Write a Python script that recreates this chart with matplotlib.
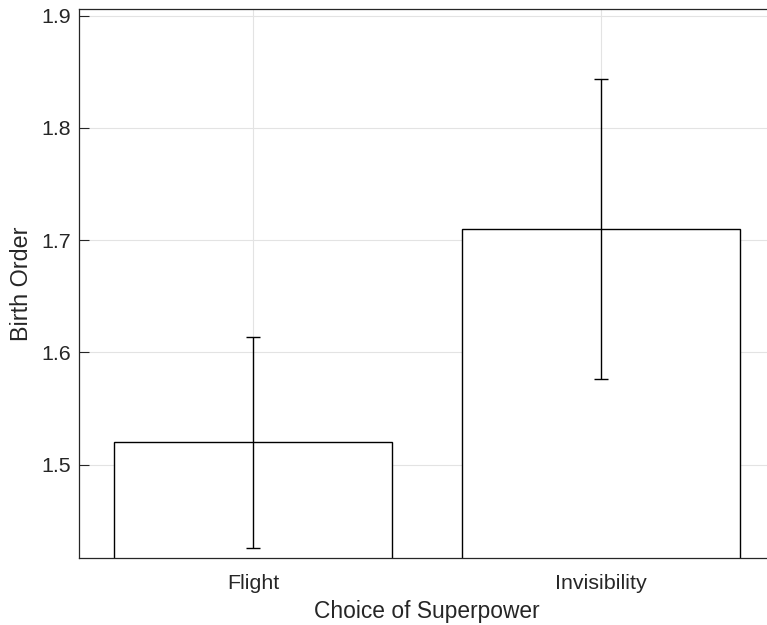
import matplotlib
matplotlib.use('Agg')
import matplotlib.pyplot as plt
import numpy as np

# Datos
categories = ['Flight', 'Invisibility']
means = [1.52, 1.71]
errors = [0.094, 0.1335]
yticks = [1.5, 1.6, 1.7, 1.8, 1.9]

plt.rcParams['font.family'] = ['Liberation Sans', 'DejaVu Sans']

fig = plt.figure(figsize=(7.67, 6.25), dpi=100)
ax = fig.add_axes([0.103, 0.1067, 0.907, 0.879])

x = np.arange(1, len(categories) + 1)
ax.bar(x, means, width=0.8, color='white', edgecolor='black', linewidth=1.0, zorder=2)
ax.errorbar(x, means, yerr=errors, fmt='none', ecolor='black', elinewidth=1.0,
            capsize=5, capthick=1.0, zorder=3)

ax.set_xlim(0.5, 2.5)
ax.set_ylim(1.4166, 1.906)
ax.set_xticks(x)
ax.set_xticklabels(categories)
ax.set_yticks(yticks)
ax.set_yticklabels([f'{v:.1f}' for v in yticks])

ax.grid(True, color='#e3e3e3', linewidth=0.8, zorder=0)
ax.set_axisbelow(True)
ax.tick_params(direction='in', length=7, width=0.8, colors='#262626',
               labelsize=15.4)
ax.tick_params(axis='x', pad=11)
ax.tick_params(axis='y', pad=6)
for s in ['left', 'bottom', 'top']:
    ax.spines[s].set_color('#262626')
    ax.spines[s].set_linewidth(0.9)
ax.spines['right'].set_visible(False)

ax.set_xlabel('Choice of Superpower', fontsize=16.4, color='#262626', labelpad=5.5)
ax.set_ylabel('Birth Order', fontsize=16.8, color='#262626', labelpad=6)

fig.savefig('out.png', dpi=100)
